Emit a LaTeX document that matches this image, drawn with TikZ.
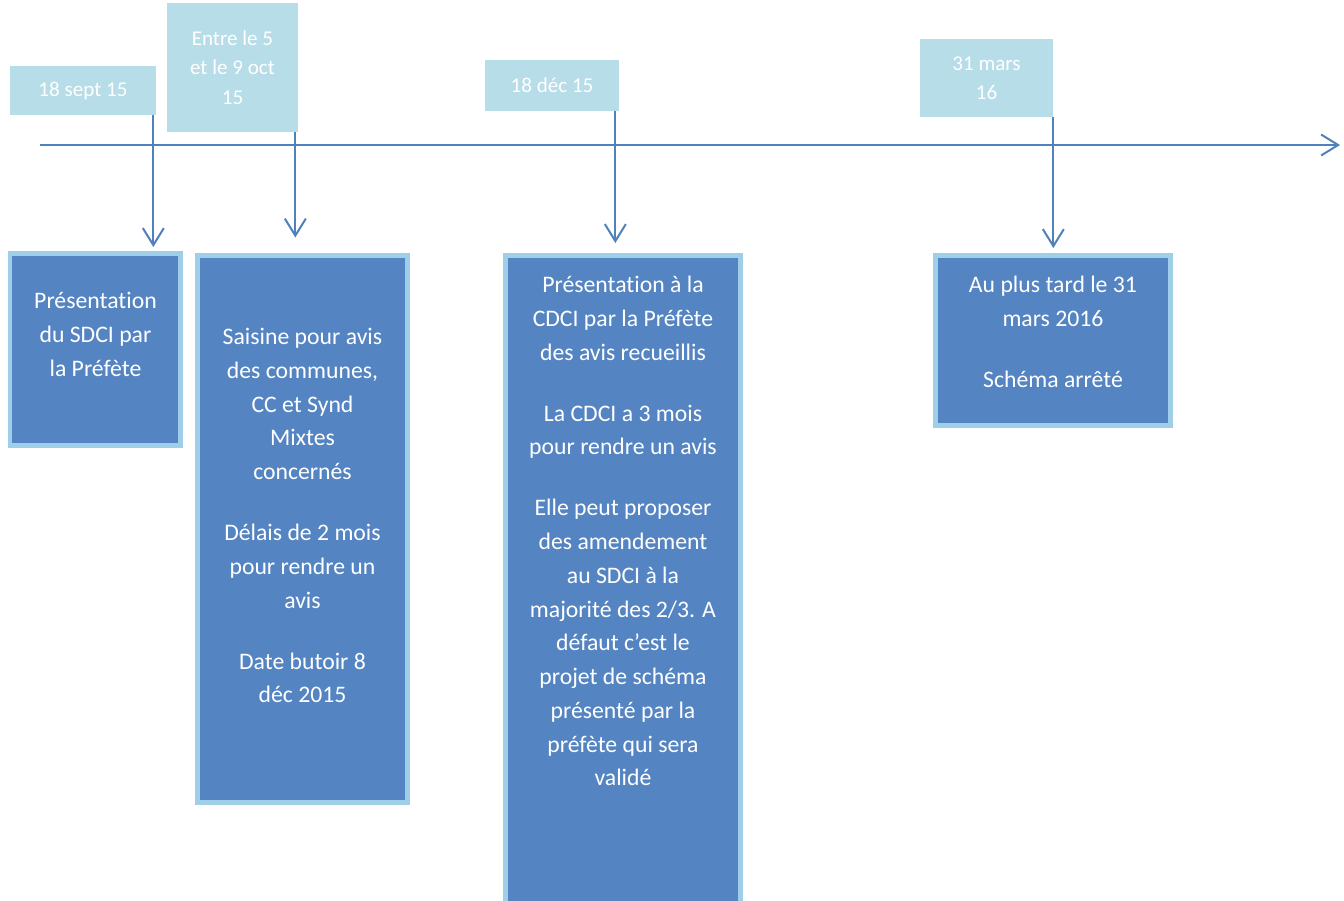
\documentclass[tikz,border=0pt]{standalone}
\usepackage{fontspec}
\setmainfont{Carlito}[Ligatures=NoCommon]
\usetikzlibrary{arrows.meta}
\definecolor{datefill}{RGB}{183,221,232}
\definecolor{evfill}{RGB}{84,132,194}
\definecolor{evedge}{RGB}{158,206,232}
\definecolor{linkblue}{RGB}{79,129,189}

\begin{document}
\begin{tikzpicture}[x=0.02cm, y=-0.02cm,
  datebox/.style={fill=datefill, text=white, inner sep=0pt, align=center, font=\fontsize{12}{16.8}\selectfont},
  evbox/.style={fill=evfill, draw=evedge, line width=0.1cm, inner sep=0pt, outer sep=0pt, anchor=north west},
  evtext/.style={text=white, inner sep=0pt, anchor=north, align=center, font=\fontsize{13.5}{19.2}\selectfont},
  link/.style={draw=linkblue, line width=0.04cm, -{Straight Barb[length=0.34cm,width=0.42cm]}}]
\useasboundingbox (0,0) rectangle (1344,900);
\clip (0,0) rectangle (1344,900);
\fill[white] (0,0) rectangle (1344,900);

\coordinate (tl0) at (40,145);
\coordinate (tl1) at (1340,145);
\draw[link] (tl0) -- (tl1);

\node[datebox, minimum width=2.92cm, minimum height=0.98cm] (d1) at (83,90.5) {18 sept 15};
\node[datebox, minimum width=2.62cm, minimum height=2.58cm] (d2) at (232.5,67.5) {Entre le 5\\et le 9 oct\\15};
\node[datebox, minimum width=2.68cm, minimum height=1.02cm] (d3) at (552,85.5) {18 déc 15};
\node[datebox, minimum width=2.66cm, minimum height=1.56cm] (d4) at (986.5,78) {31 mars\\16};

\node[evbox, minimum width=3.42cm, minimum height=3.86cm] (ev1) at (10,253) {};
\node[evbox, minimum width=4.2cm, minimum height=10.95cm] (ev2) at (197.5,255.5) {};
\node[evbox, minimum width=4.7cm, minimum height=14cm] (ev3) at (505.5,255.5) {};
\node[evbox, minimum width=4.7cm, minimum height=3.4cm] (ev4) at (935.5,255.5) {};

\node[evtext] (ev1txt) at ([yshift=-0.78cm]ev1.north) {Présentation\\du SDCI par\\la Préfète};
\node[evtext] (ev2txt) at ([yshift=-1.45cm]ev2.north) {Saisine pour avis\\des communes,\\CC et Synd\\Mixtes\\concernés\\[15.5pt]Délais de 2 mois\\pour rendre un\\avis\\[15.5pt]Date butoir 8\\déc 2015};
\node[evtext] (ev3txt) at ([yshift=-0.41cm]ev3.north) {Présentation à la\\CDCI par la Préfète\\des avis recueillis\\[15.5pt]La CDCI a 3 mois\\pour rendre un avis\\[15.5pt]Elle peut proposer\\des amendement\\au SDCI à la\\majorité des 2/3. A\\défaut c’est le\\projet de schéma\\présenté par la\\préfète qui sera\\validé};
\node[evtext] (ev4txt) at ([yshift=-0.41cm]ev4.north) {Au plus tard le 31\\mars 2016\\[15.5pt]Schéma arrêté};

\draw[link, shorten >=0.12cm] ([xshift=-0.06cm]d1.south east) -- ([xshift=-0.06cm]d1.south east |- ev1.north);
\draw[link, shorten >=0.36cm] ([xshift=-0.06cm]d2.south east) -- ([xshift=-0.06cm]d2.south east |- ev2.north);
\draw[link, shorten >=0.25cm] ([xshift=-0.08cm]d3.south east) -- ([xshift=-0.08cm]d3.south east |- ev3.north);
\draw[link, shorten >=0.15cm] (d4.south east) -- (d4.south east |- ev4.north);
\end{tikzpicture}
\end{document}
